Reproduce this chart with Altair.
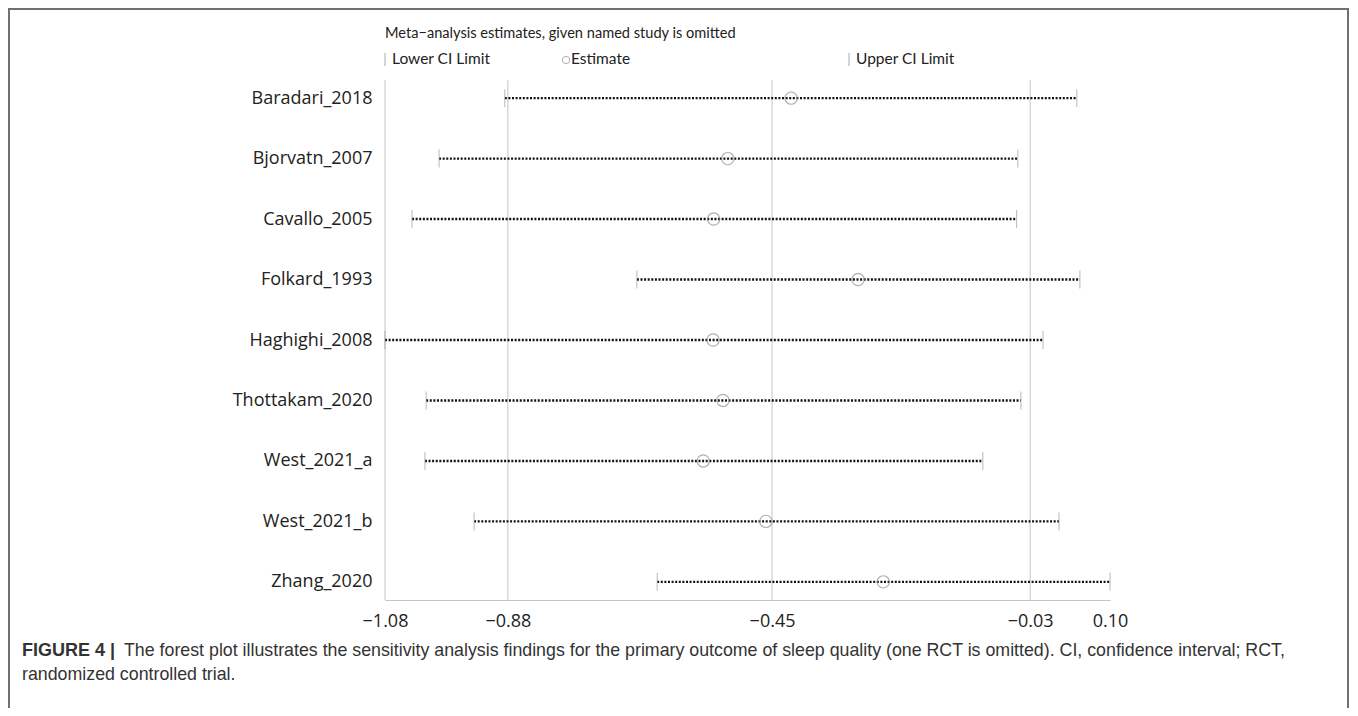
import altair as alt
import pandas as pd

studies = ["Baradari_2018", "Bjorvatn_2007", "Cavallo_2005", "Folkard_1993", "Haghighi_2008",
           "Thottakam_2020", "West_2021_a", "West_2021_b", "Zhang_2020"]
estimate = [-0.419, -0.522, -0.545, -0.310, -0.546, -0.530, -0.562, -0.460, -0.269]
lower = [-0.885, -0.992, -1.036, -0.670, -1.080, -1.013, -1.015, -0.935, -0.637]
upper = [0.046, -0.050, -0.052, 0.051, -0.009, -0.045, -0.107, 0.017, 0.100]
tick_values = [-1.08, -0.88, -0.45, -0.03, 0.10]
grid_values = [-1.08, -0.88, -0.45, -0.03]

title_text = "Meta\u2212analysis estimates, given named study is omitted"
legend_labels = ["Lower CI Limit", "Estimate", "Upper CI Limit"]
caption_bold = "FIGURE 4 |"
caption_line1 = ("The forest plot illustrates the sensitivity analysis findings for the primary outcome "
                 "of sleep quality (one RCT is omitted). CI, confidence interval; RCT,")
caption_line2 = "randomized controlled trial."

df = pd.DataFrame({"study": studies, "est": estimate, "lo": lower, "hi": upper})
gdf = pd.DataFrame({"g": grid_values})
one = pd.DataFrame({"a": [0]})

FONT = "Open Sans"
LFONT = "Lato"
xscale = alt.Scale(domain=[-1.08, 0.10], nice=False, zero=False)
xaxis = alt.Axis(values=tick_values, format=".2f", title=None, grid=False, ticks=False,
                 domainColor="#c4c4c4", domainWidth=1, labelFont=FONT, labelFontSize=18,
                 labelColor="#222222", labelPadding=12, labelFlush=False)
yscale = alt.Scale(type="point", domain=studies, padding=0.3)
yaxis = alt.Axis(title=None, domain=False, ticks=False, grid=False, labelFont=FONT,
                 labelFontSize=18, labelColor="#222222", labelPadding=13)

grid = alt.Chart(gdf).mark_rule(color="#c4c4c4", strokeWidth=1).encode(
    x=alt.X("g:Q", scale=xscale, axis=xaxis)
)

ci = alt.Chart(df).mark_rule(color="#111111", strokeWidth=2.4, strokeDash=[2, 1.6]).encode(
    x=alt.X("lo:Q", scale=xscale, axis=xaxis),
    x2="hi:Q",
    y=alt.Y("study:N", scale=yscale, axis=yaxis),
)

lo_tick = alt.Chart(df).mark_tick(color="#9a9a9a", size=18, thickness=1).encode(
    x=alt.X("lo:Q", scale=xscale, axis=xaxis),
    y=alt.Y("study:N", scale=yscale, axis=yaxis),
)
hi_tick = alt.Chart(df).mark_tick(color="#9a9a9a", size=18, thickness=1).encode(
    x=alt.X("hi:Q", scale=xscale, axis=xaxis),
    y=alt.Y("study:N", scale=yscale, axis=yaxis),
)
pts = alt.Chart(df).mark_point(shape="circle", filled=False, size=150, color="#8f8f8f",
                               strokeWidth=1.2).encode(
    x=alt.X("est:Q", scale=xscale, axis=xaxis),
    y=alt.Y("study:N", scale=yscale, axis=yaxis),
)

def txt(t, x, y, size=16, font=FONT, color="#222222", weight="normal", align="left"):
    return alt.Chart(pd.DataFrame({"t": [t]})).mark_text(
        font=font, fontSize=size, color=color, fontWeight=weight, align=align, baseline="middle"
    ).encode(text="t:N", x=alt.value(x), y=alt.value(y))

title = txt(title_text, 0, -46, size=14.6, font=LFONT)
leg1 = txt(legend_labels[0], 7, -21, size=15.5, font=LFONT)
leg2 = txt(legend_labels[1], 186, -21, size=15.5, font=LFONT)
leg3 = txt(legend_labels[2], 471, -21, size=15.5, font=LFONT)
leg_tick1 = alt.Chart(one).mark_rule(color="#aaaaaa", strokeWidth=1).encode(
    x=alt.value(0), y=alt.value(-27), y2=alt.value(-14))
leg_tick2 = alt.Chart(one).mark_rule(color="#aaaaaa", strokeWidth=1).encode(
    x=alt.value(464), y=alt.value(-27), y2=alt.value(-14))
leg_circ = alt.Chart(one).mark_point(shape="circle", filled=False, size=55, color="#8f8f8f",
                                     strokeWidth=1).encode(x=alt.value(181), y=alt.value(-20))

cap_b = txt(caption_bold, -363, 571, size=18, font="Liberation Sans", color="#333333", weight="bold")
cap_1 = txt(caption_line1, -261, 571, size=17.8, font="Liberation Sans", color="#333333")
cap_2 = txt(caption_line2, -363, 595, size=17.8, font="Liberation Sans", color="#333333")

frame = alt.Chart(one).mark_rect(filled=False, stroke="#707070", strokeWidth=2).encode(
    x=alt.value(-376), x2=alt.value(963), y=alt.value(-71), y2=alt.value(660))

chart = alt.layer(
    frame, grid, ci, lo_tick, hi_tick, pts,
    title, leg_tick1, leg1, leg_circ, leg2, leg_tick2, leg3,
    cap_b, cap_1, cap_2,
).properties(
    width=725, height=520,
    autosize=alt.AutoSizeParams(type="none"),
    padding={"left": 377, "top": 72, "right": 240, "bottom": 108},
).configure_view(stroke=None)

chart.save("out.html", embed_options={"renderer": "svg", "actions": False})
